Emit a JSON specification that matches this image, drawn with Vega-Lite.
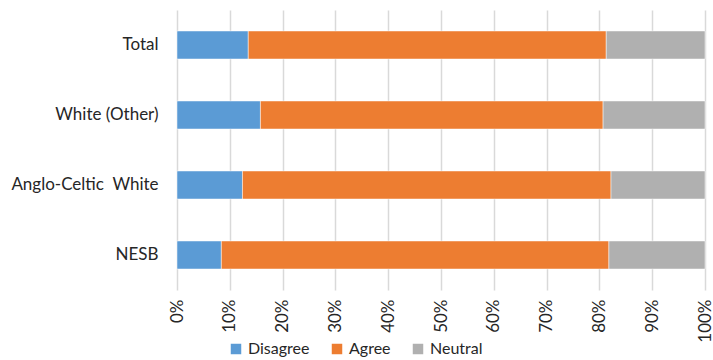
{
  "$schema": "https://vega.github.io/schema/vega-lite/v6.json",
  "autosize": "none",
  "padding": {"left": 177, "top": 10, "right": 8, "bottom": 70},
  "width": 528,
  "height": 280,
  "config": {"view": {"stroke": null}, "font": "Lato"},
  "data": {"values": [
    {"group": "Total", "response": "Disagree", "o": 1, "value": 13.5},
    {"group": "Total", "response": "Agree", "o": 2, "value": 67.8},
    {"group": "Total", "response": "Neutral", "o": 3, "value": 18.7},
    {"group": "White (Other)", "response": "Disagree", "o": 1, "value": 15.8},
    {"group": "White (Other)", "response": "Agree", "o": 2, "value": 64.9},
    {"group": "White (Other)", "response": "Neutral", "o": 3, "value": 19.3},
    {"group": "Anglo-Celtic\u00a0 White", "response": "Disagree", "o": 1, "value": 12.4},
    {"group": "Anglo-Celtic\u00a0 White", "response": "Agree", "o": 2, "value": 69.8},
    {"group": "Anglo-Celtic\u00a0 White", "response": "Neutral", "o": 3, "value": 17.8},
    {"group": "NESB", "response": "Disagree", "o": 1, "value": 8.4},
    {"group": "NESB", "response": "Agree", "o": 2, "value": 73.4},
    {"group": "NESB", "response": "Neutral", "o": 3, "value": 18.2}
  ]},
  "mark": {"type": "bar", "stroke": "white", "strokeWidth": 0.6, "strokeOpacity": 0.8},
  "encoding": {
    "y": {
      "field": "group", "type": "nominal",
      "sort": ["Total", "White (Other)", "Anglo-Celtic\u00a0 White", "NESB"],
      "scale": {"paddingInner": 0.6, "paddingOuter": 0.3},
      "axis": {"title": null, "domain": false, "ticks": false, "labelFontSize": 17, "labelColor": "#262626", "labelPadding": 19, "labelFont": "Lato"}
    },
    "x": {
      "field": "value", "type": "quantitative", "stack": "normalize",
      "scale": {"domain": [0, 1], "nice": false},
      "axis": {"title": null, "format": "%", "values": [0, 0.1, 0.2, 0.3, 0.4, 0.5, 0.6, 0.7, 0.8, 0.9, 1],
        "labelAngle": -90, "labelFontSize": 17, "labelColor": "#262626", "labelPadding": 9,
        "domain": false, "ticks": false, "grid": true, "gridColor": "#D9D9D9", "gridWidth": 1.5, "labelFlush": false, "labelOverlap": false}
    },
    "color": {
      "field": "response", "type": "nominal",
      "scale": {"domain": ["Disagree", "Agree", "Neutral"], "range": ["#5B9BD5", "#ED7D31", "#B0B0B0"]},
      "legend": {"title": null, "orient": "none", "direction": "horizontal", "legendX": 51, "legendY": 331,
        "symbolType": "square", "symbolSize": 110, "symbolStrokeWidth": 0, "labelFontSize": 16, "labelColor": "#262626", "columnPadding": 19, "labelOffset": 4}
    },
    "order": {"field": "o", "type": "quantitative"}
  }
}
